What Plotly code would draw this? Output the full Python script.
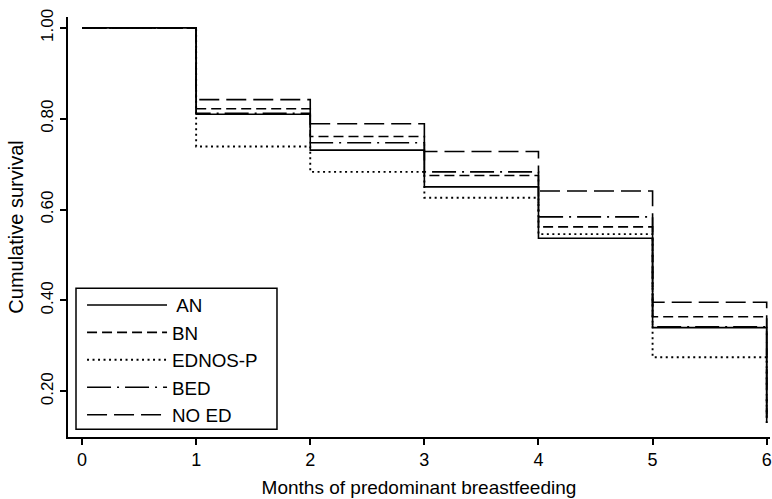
import plotly.graph_objects as go

months = [0, 1, 2, 3, 4, 5, 6]
an = [1.00, 0.810, 0.731, 0.650, 0.537, 0.340, 0.15]
bn = [1.00, 0.822, 0.761, 0.675, 0.562, 0.364, 0.13]
ednos_p = [1.00, 0.739, 0.683, 0.626, 0.546, 0.275, 0.13]
bed = [1.00, 0.812, 0.747, 0.683, 0.584, 0.342, 0.13]
no_ed = [1.00, 0.842, 0.789, 0.728, 0.641, 0.396, 0.13]

series = [
    (" AN", an, "solid", 1.6),
    ("BN", bn, "10px,5px", 1.6),
    ("EDNOS-P", ednos_p, "2px,3.5px", 1.9),
    ("BED", bed, "24px,6px,2px,6px", 1.6),
    ("NO ED", no_ed, "20px,7px", 1.6),
]

x_ticks = [0, 1, 2, 3, 4, 5, 6]
y_ticks = [0.20, 0.40, 0.60, 0.80, 1.00]
y_tick_text = ["0.20", "0.40", "0.60", "0.80", "1.00"]

FONT = "Liberation Sans, Arial, Helvetica, sans-serif"

fig = go.Figure()
for name, vals, dash, w in series:
    fig.add_trace(go.Scatter(
        x=months, y=vals, name=name, mode="lines",
        line=dict(shape="hv", color="black", width=w, dash=dash),
    ))

# legend frame
fig.add_shape(type="rect", xref="paper", yref="paper",
              x0=0.0114, x1=0.2977, y0=0.0183, y1=0.354,
              line=dict(color="black", width=1.5), fillcolor="rgba(0,0,0,0)",
              layer="above")

fig.update_layout(
    width=772, height=499,
    margin=dict(l=68, r=2, t=17, b=62),
    paper_bgcolor="white", plot_bgcolor="white",
    font=dict(family=FONT, color="black", size=18),
    showlegend=True,
    legend=dict(
        x=0.020, y=0.359, xanchor="left", yanchor="top",
        borderwidth=0, bgcolor="rgba(0,0,0,0)",
        font=dict(size=18.8, family=FONT, color="black"),
        itemwidth=80,
    ),
    xaxis=dict(
        range=[-0.123, 6.029], showgrid=False, zeroline=False,
        showline=True, linecolor="black", linewidth=1.5,
        ticks="outside", ticklen=6, tickwidth=1.5, tickcolor="black",
        tickvals=x_ticks, ticktext=[str(v) for v in x_ticks],
        tickfont=dict(size=18),
        title=dict(text="Months of predominant breastfeeding", font=dict(size=19), standoff=11),
        automargin=False,
    ),
    yaxis=dict(
        range=[0.0993, 1.024], showgrid=False, zeroline=False,
        showline=True, linecolor="black", linewidth=1.5,
        ticks="outside", ticklen=6, tickwidth=1.5, tickcolor="black",
        tickvals=y_ticks, ticktext=y_tick_text, tickangle=-90,
        tickfont=dict(size=17),
        title=dict(text="Cumulative survival", font=dict(size=20), standoff=9),
        automargin=False,
    ),
)

fig.write_html(
    "out.html",
    config={"displayModeBar": False},
    post_script="document.body.style.margin='0';document.body.style.overflow='hidden';",
)
